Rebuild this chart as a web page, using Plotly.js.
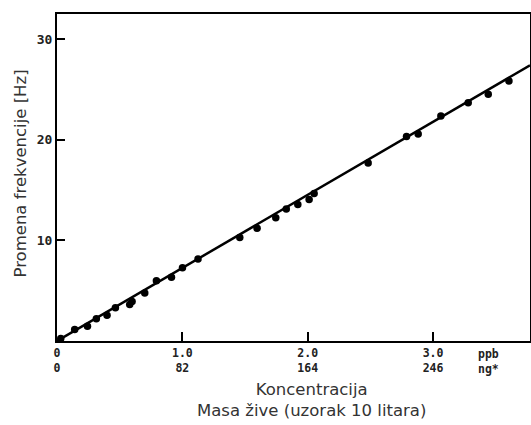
<!DOCTYPE html>
<html>
<head>
<meta charset="utf-8">
<script src="https://cdn.plot.ly/plotly-3.0.1.min.js"></script>
<style>html,body{margin:0;padding:0;background:#fff;}#chart{width:531px;height:425px;}</style>
</head>
<body>
<div id="chart"></div>
<script>
// Measured points: concentration (ppb) vs frequency change (Hz)
const concPpb = [0.03, 0.141, 0.243, 0.314, 0.399, 0.466, 0.580, 0.599, 0.700, 0.793, 0.913, 1.001, 1.125, 1.458, 1.596, 1.745, 1.829, 1.921, 2.011, 2.051, 2.482, 2.788, 2.881, 3.062, 3.280, 3.440, 3.605];
const freqHz  = [0.25, 1.14, 1.46, 2.22, 2.55, 3.31, 3.63, 3.93, 4.76, 6.00, 6.34, 7.29, 8.14, 10.29, 11.20, 12.26, 13.13, 13.57, 14.07, 14.66, 17.69, 20.32, 20.58, 22.36, 23.67, 24.53, 25.84];
// Calibration line endpoints
const fitX = [0, 3.773];
const fitY = [0, 27.4];
// Tick labels
const xTickVals = [0, 1, 2, 3];
const xTickText = ["0<br>0", "1.0<br>82", "2.0<br>164", "3.0<br>246"];
const yTickVals = [10, 20, 30];
const yTickText = ["10", "20", "30"];
const unitLabel = "ppb<br>ng*";
const unitPos = 3.44;

const tickFont = {family: "DejaVu Sans Mono, monospace", size: 11.5, color: "#222", weight: "bold"};
const titleFont = {family: "DejaVu Sans, sans-serif", size: 16.5, color: "#333"};

const traces = [
  {x: fitX, y: fitY, mode: "lines", line: {color: "#000", width: 2.5}, hoverinfo: "skip", showlegend: false},
  {x: concPpb, y: freqHz, mode: "markers", marker: {color: "#000", size: 7.5}, showlegend: false}
];

const layout = {
  width: 531, height: 425,
  margin: {l: 57, r: 1, t: 14, b: 84},
  paper_bgcolor: "#fff", plot_bgcolor: "#fff",
  showlegend: false,
  xaxis: {
    range: [0, 3.773], showgrid: false, zeroline: false,
    showline: true, mirror: true, linecolor: "#000", linewidth: 2,
    ticks: "inside", ticklen: 9, tickwidth: 2, tickcolor: "#000",
    tickvals: xTickVals, ticktext: xTickText, tickfont: tickFont,
    fixedrange: true
  },
  yaxis: {
    range: [0, 32.5], showgrid: false, zeroline: false,
    showline: true, mirror: true, linecolor: "#000", linewidth: 2,
    ticks: "inside", ticklen: 8, tickwidth: 2, tickcolor: "#000",
    tickvals: yTickVals, ticktext: yTickText,
    tickfont: {family: "DejaVu Sans Mono, monospace", size: 13, color: "#222", weight: "bold"},
    fixedrange: true
  },
  annotations: [
    {xref: "x", yref: "paper", x: unitPos, y: 0, yanchor: "top", yshift: -4, showarrow: false,
     text: unitLabel, font: tickFont, align: "center"},
    {xref: "paper", yref: "paper", x: 0.5, y: 0, yanchor: "top", xshift: 18, yshift: -37, showarrow: false,
     text: "Koncentracija<br>Masa žive (uzorak 10 litara)", font: titleFont, align: "center"},
    {xref: "paper", yref: "paper", x: 0, y: 0.5, xanchor: "center", xshift: -37, yshift: 4, showarrow: false,
     textangle: -90, text: "Promena frekvencije [Hz]", font: titleFont}
  ]
};

Plotly.newPlot("chart", traces, layout, {displayModeBar: false, staticPlot: true});
</script>
</body>
</html>
